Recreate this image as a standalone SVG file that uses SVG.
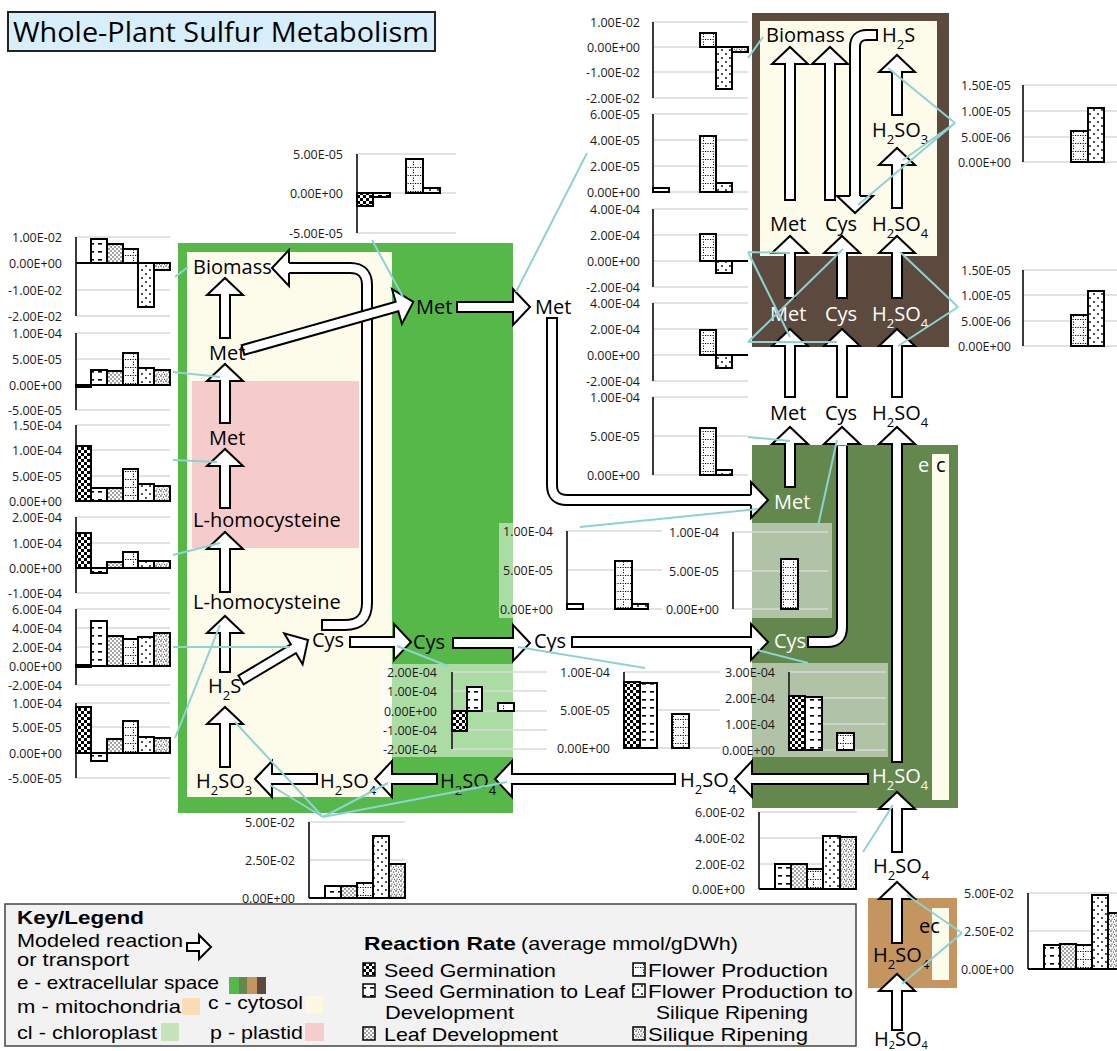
<svg xmlns="http://www.w3.org/2000/svg" width="1117" height="1051" viewBox="0 0 1117 1051">
<defs>
<style>
.t{font-family:"Open Sans","Liberation Sans",sans-serif;font-size:20px;fill:#000}
.tw{fill:#fff}
.s{font-size:13px}
.ax{font-family:"Open Sans","Liberation Sans",sans-serif;font-size:12.5px;text-anchor:end;fill:#1a1a1a}
.grid{stroke:#d9d9d9;stroke-width:1.5;fill:none}
.axis{stroke:#3a3a3a;stroke-width:2;fill:none}
.arr{fill:#fff;stroke:#000;stroke-width:2;stroke-linejoin:miter}
.sb{fill:none;stroke:#000;stroke-width:12}
.sw{fill:none;stroke:#fff;stroke-width:8}
.conn{stroke:#8dd3d3;stroke-width:2;fill:none}
.bar{stroke:#000;stroke-width:2}
.c{fill:url(#pC)}.d{fill:url(#pD)}.l{fill:url(#pL)}.f{fill:url(#pF)}.p{fill:url(#pS)}.r{fill:url(#pR)}
.bg{fill:#fff;fill-opacity:0.5}
.lg{font-family:"Liberation Sans Narrow","Liberation Sans",sans-serif;font-size:19px;fill:#000}
.lgb{font-weight:bold}
</style>
<pattern id="pC" width="6" height="6" patternUnits="userSpaceOnUse"><rect width="6" height="6" fill="#fff"/><rect width="3" height="3" fill="#000"/><rect x="3" y="3" width="3" height="3" fill="#000"/></pattern>
<pattern id="pD" width="8" height="8" patternUnits="userSpaceOnUse"><rect width="8" height="8" fill="#fff"/><rect x="2" y="3" width="4" height="1.6" fill="#000"/></pattern>
<pattern id="pL" width="4" height="4" patternUnits="userSpaceOnUse"><rect width="4" height="4" fill="#fff"/><circle cx="1" cy="1" r="0.7" fill="#000"/><circle cx="3" cy="3" r="0.7" fill="#000"/></pattern>
<pattern id="pF" width="10" height="8" patternUnits="userSpaceOnUse"><rect width="10" height="8" fill="#fff"/><rect x="0" y="7" width="1.2" height="1" fill="#000"/><rect x="2.5" y="7" width="1.2" height="1" fill="#000"/><rect x="5" y="7" width="1.2" height="1" fill="#000"/><rect x="7.5" y="7" width="1.2" height="1" fill="#000"/><rect x="3" y="1.5" width="1" height="1.2" fill="#000"/><rect x="3" y="4" width="1" height="1.2" fill="#000"/></pattern>
<pattern id="pS" width="8" height="8" patternUnits="userSpaceOnUse"><rect width="8" height="8" fill="#fff"/><circle cx="2" cy="2" r="0.9" fill="#000"/><circle cx="6" cy="6" r="0.9" fill="#000"/></pattern>
<pattern id="pR" width="5" height="5" patternUnits="userSpaceOnUse"><rect width="5" height="5" fill="#fff"/><circle cx="1" cy="1" r="0.7" fill="#000"/><circle cx="3.5" cy="2" r="0.6" fill="#000"/><circle cx="2" cy="4" r="0.6" fill="#000"/><circle cx="4.5" cy="4.3" r="0.5" fill="#000"/></pattern>
</defs>
<rect width="1117" height="1051" fill="#fff"/>

<g id="title"><rect x="8" y="12" width="427" height="39" fill="#d7effc" stroke="#222" stroke-width="2"/><text x="13" y="42" font-family="Open Sans, Liberation Sans, sans-serif" font-size="28" textLength="416" lengthAdjust="spacingAndGlyphs">Whole-Plant Sulfur Metabolism</text></g>

<g id="compartments">
<rect x="178" y="243" width="335" height="570" fill="#55b848"/>
<rect x="187" y="252" width="205" height="545" fill="#fdfbea"/>
<rect x="192" y="381" width="167" height="167" fill="#f5cbcb"/>
<rect x="752" y="13" width="197" height="334" fill="#5d4a3f"/>
<rect x="760" y="21" width="177" height="235" fill="#fdfbea"/>
<rect x="752" y="445" width="206" height="363" fill="#63874d"/>
<rect x="932" y="454" width="17" height="346" fill="#fdfbea"/>
<rect x="868" y="898" width="89" height="90" fill="#c4955f"/>
<rect x="932" y="908" width="17" height="72" fill="#fdfbea"/>
</g>

<g id="charts">
<g id="chartA"><path class="grid" d="M357 154H456M357 193H456M357 233H456"/><text class="ax" x="343" y="159">5.00E-05</text><text class="ax" x="343" y="198">0.00E+00</text><text class="ax" x="343" y="238">-5.00E-05</text><path class="axis" d="M357 154V233"/><rect class="bar c" x="357" y="193" width="16" height="13"/><rect class="bar d" x="373" y="193" width="17" height="4"/><rect class="bar f" x="406" y="159" width="17" height="34"/><rect class="bar p" x="423" y="188" width="17" height="5"/></g>

<g id="chartB"><path class="grid" d="M76 237H170M76 263H170M76 290H170M76 316H170"/><text class="ax" x="62" y="241.5">1.00E-02</text><text class="ax" x="62" y="267.5">0.00E+00</text><text class="ax" x="62" y="294.5">-1.00E-02</text><text class="ax" x="62" y="320.5">-2.00E-02</text><path class="axis" d="M76 237V316"/><path class="bar" d="M76 263H91"/><rect class="bar d" x="91" y="239" width="16" height="24"/><rect class="bar l" x="107" y="244" width="16" height="19"/><rect class="bar f" x="123" y="249" width="15" height="14"/><rect class="bar p" x="138" y="263" width="16" height="44"/><rect class="bar r" x="154" y="263" width="16" height="7"/></g>

<g id="chartC"><path class="grid" d="M76 333H170M76 359H170M76 385H170M76 410H170"/><text class="ax" x="62" y="337.5">1.00E-04</text><text class="ax" x="62" y="363.5">5.00E-05</text><text class="ax" x="62" y="389.5">0.00E+00</text><text class="ax" x="62" y="414.5">-5.00E-05</text><path class="axis" d="M76 333V410"/><rect class="bar d" x="76" y="385" width="15" height="2"/><rect class="bar d" x="91" y="370" width="16" height="15"/><rect class="bar l" x="107" y="371" width="16" height="14"/><rect class="bar f" x="123" y="353" width="15" height="32"/><rect class="bar p" x="138" y="368" width="16" height="17"/><rect class="bar r" x="154" y="370" width="16" height="15"/></g>

<g id="chartD"><path class="grid" d="M76 425H170M76 450H170M76 476H170M76 501H170"/><text class="ax" x="62" y="429.5">1.50E-04</text><text class="ax" x="62" y="454.5">1.00E-04</text><text class="ax" x="62" y="480.5">5.00E-05</text><text class="ax" x="62" y="505.5">0.00E+00</text><path class="axis" d="M76 425V501"/><rect class="bar c" x="76" y="446" width="15" height="55"/><rect class="bar d" x="91" y="488" width="16" height="13"/><rect class="bar l" x="107" y="488" width="16" height="13"/><rect class="bar f" x="123" y="469" width="15" height="32"/><rect class="bar p" x="138" y="484" width="16" height="17"/><rect class="bar r" x="154" y="486" width="16" height="15"/></g>

<g id="chartE"><path class="grid" d="M76 517H170M76 543H170M76 568H170M76 593H170"/><text class="ax" x="62" y="521.5">2.00E-04</text><text class="ax" x="62" y="547.5">1.00E-04</text><text class="ax" x="62" y="572.5">0.00E+00</text><text class="ax" x="62" y="597.5">-1.00E-04</text><path class="axis" d="M76 517V593"/><rect class="bar c" x="76" y="533" width="15" height="35"/><rect class="bar d" x="91" y="568" width="16" height="5"/><rect class="bar l" x="107" y="562" width="16" height="6"/><rect class="bar f" x="123" y="552" width="15" height="16"/><rect class="bar p" x="138" y="561" width="16" height="7"/><rect class="bar r" x="154" y="561" width="16" height="7"/></g>

<g id="chartF"><path class="grid" d="M76 609H170M76 628H170M76 647H170M76 666H170M76 685H170"/><text class="ax" x="62" y="613.5">6.00E-04</text><text class="ax" x="62" y="632.5">4.00E-04</text><text class="ax" x="62" y="651.5">2.00E-04</text><text class="ax" x="62" y="670.5">0.00E+00</text><text class="ax" x="62" y="689.5">-2.00E-04</text><path class="axis" d="M76 609V685"/><rect class="bar d" x="76" y="665" width="15" height="2"/><rect class="bar d" x="91" y="621" width="16" height="45"/><rect class="bar l" x="107" y="636" width="16" height="30"/><rect class="bar f" x="123" y="639" width="15" height="27"/><rect class="bar p" x="138" y="637" width="16" height="29"/><rect class="bar r" x="154" y="633" width="16" height="33"/></g>

<g id="chartG"><path class="grid" d="M76 703H170M76 727H170M76 753H170M76 778H170"/><text class="ax" x="62" y="707.5">1.00E-04</text><text class="ax" x="62" y="731.5">5.00E-05</text><text class="ax" x="62" y="757.5">0.00E+00</text><text class="ax" x="62" y="782.5">-5.00E-05</text><path class="axis" d="M76 703V778"/><rect class="bar c" x="76" y="707" width="15" height="46"/><rect class="bar d" x="91" y="753" width="16" height="8"/><rect class="bar l" x="107" y="739" width="16" height="14"/><rect class="bar f" x="123" y="721" width="15" height="32"/><rect class="bar p" x="138" y="737" width="16" height="16"/><rect class="bar r" x="154" y="738" width="16" height="15"/></g>

<g id="chartH"><path class="grid" d="M309 822H405M309 860H405M309 898H405"/><text class="ax" x="295" y="826.5">5.00E-02</text><text class="ax" x="295" y="864.5">2.50E-02</text><text class="ax" x="295" y="902.5">0.00E+00</text><path class="axis" d="M309 822V898"/><path class="bar" d="M309 898H325"/><rect class="bar d" x="325" y="886" width="16" height="12"/><rect class="bar l" x="341" y="886" width="16" height="12"/><rect class="bar f" x="357" y="883" width="16" height="15"/><rect class="bar p" x="373" y="836" width="16" height="62"/><rect class="bar r" x="389" y="864" width="16" height="34"/></g>

<g id="chartI"><rect class="bg" x="380" y="664" width="133" height="93"/><path class="grid" d="M452 672H547M452 691H547M452 711H547M452 730H547M452 749H547"/><text class="ax" x="437" y="676.5">2.00E-04</text><text class="ax" x="437" y="695.5">1.00E-04</text><text class="ax" x="437" y="715.5">0.00E+00</text><text class="ax" x="437" y="734.5">-1.00E-04</text><text class="ax" x="437" y="753.5">-2.00E-04</text><path class="axis" d="M452 672V749"/><rect class="bar c" x="452" y="711" width="15" height="20"/><rect class="bar d" x="467" y="687" width="15" height="24"/><rect class="bar f" x="498" y="703" width="16" height="8"/></g>

<g id="chartJ"><path class="grid" d="M624 672H720M624 710H720M624 748H720"/><text class="ax" x="610" y="676.5">1.00E-04</text><text class="ax" x="610" y="714.5">5.00E-05</text><text class="ax" x="610" y="752.5">0.00E+00</text><path class="axis" d="M624 672V748"/><rect class="bar c" x="624" y="682" width="16" height="66"/><rect class="bar d" x="640" y="683" width="17" height="65"/><rect class="bar f" x="672" y="714" width="17" height="34"/></g>

<g id="chartK"><rect class="bg" x="752" y="663" width="136" height="94"/><path class="grid" d="M789 672H886M789 698H886M789 724H886M789 750H886"/><text class="ax" x="775" y="676.5">3.00E-04</text><text class="ax" x="775" y="702.5">2.00E-04</text><text class="ax" x="775" y="728.5">1.00E-04</text><text class="ax" x="775" y="754.5">0.00E+00</text><path class="axis" d="M789 672V750"/><rect class="bar c" x="789" y="696" width="16" height="54"/><rect class="bar d" x="805" y="697" width="17" height="53"/><rect class="bar f" x="837" y="733" width="17" height="17"/></g>

<g id="chartL"><rect class="bg" x="499" y="523" width="165" height="95"/><path class="grid" d="M567 531H662M567 570H662M567 609H662"/><text class="ax" x="553" y="535.5">1.00E-04</text><text class="ax" x="553" y="574.5">5.00E-05</text><text class="ax" x="553" y="613.5">0.00E+00</text><path class="axis" d="M567 531V609"/><rect class="bar d" x="567" y="604" width="16" height="5"/><rect class="bar f" x="615" y="561" width="17" height="48"/><rect class="bar p" x="632" y="604" width="16" height="5"/></g>

<g id="chartM"><rect class="bg" x="752" y="523" width="80" height="95"/><path class="grid" d="M733 532H828M733 571H828M733 609H828"/><text class="ax" x="719" y="536.5">1.00E-04</text><text class="ax" x="719" y="575.5">5.00E-05</text><text class="ax" x="719" y="613.5">0.00E+00</text><path class="axis" d="M733 532V609"/><rect class="bar f" x="781" y="559" width="17" height="50"/></g>

<g id="chartN1"><path class="grid" d="M653 22H748M653 47H748M653 72H748M653 98H748"/><text class="ax" x="640" y="26.5">1.00E-02</text><text class="ax" x="640" y="51.5">0.00E+00</text><text class="ax" x="640" y="76.5">-1.00E-02</text><text class="ax" x="640" y="102.5">-2.00E-02</text><path class="axis" d="M653 22V98"/><rect class="bar f" x="700" y="33" width="16" height="14"/><rect class="bar p" x="716" y="47" width="16" height="42"/><rect class="bar r" x="732" y="47" width="16" height="5"/></g>

<g id="chartN2"><path class="grid" d="M653 114H748M653 140H748M653 166H748M653 192H748"/><text class="ax" x="640" y="118.5">6.00E-05</text><text class="ax" x="640" y="144.5">4.00E-05</text><text class="ax" x="640" y="170.5">2.00E-05</text><text class="ax" x="640" y="196.5">0.00E+00</text><path class="axis" d="M653 114V192"/><rect class="bar d" x="653" y="188" width="16" height="4"/><rect class="bar f" x="700" y="136" width="16" height="56"/><rect class="bar p" x="716" y="183" width="16" height="9"/></g>

<g id="chartN3"><path class="grid" d="M653 209H748M653 235H748M653 261H748M653 287H748"/><text class="ax" x="640" y="213.5">4.00E-04</text><text class="ax" x="640" y="239.5">2.00E-04</text><text class="ax" x="640" y="265.5">0.00E+00</text><text class="ax" x="640" y="291.5">-2.00E-04</text><path class="axis" d="M653 209V287"/><rect class="bar f" x="700" y="234" width="16" height="27"/><rect class="bar p" x="716" y="261" width="16" height="12"/><path class="bar" d="M732 261H748"/></g>

<g id="chartN4"><path class="grid" d="M653 303H748M653 329H748M653 355H748M653 381H748"/><text class="ax" x="640" y="307.5">4.00E-04</text><text class="ax" x="640" y="333.5">2.00E-04</text><text class="ax" x="640" y="359.5">0.00E+00</text><text class="ax" x="640" y="385.5">-2.00E-04</text><path class="axis" d="M653 303V381"/><rect class="bar f" x="700" y="330" width="16" height="25"/><rect class="bar p" x="716" y="355" width="16" height="13"/><path class="bar" d="M732 355H748"/></g>

<g id="chartN5"><path class="grid" d="M653 397H748M653 436H748M653 475H748"/><text class="ax" x="640" y="401.5">1.00E-04</text><text class="ax" x="640" y="440.5">5.00E-05</text><text class="ax" x="640" y="479.5">0.00E+00</text><path class="axis" d="M653 397V475"/><rect class="bar f" x="700" y="428" width="16" height="47"/><rect class="bar p" x="716" y="470" width="16" height="5"/></g>

<g id="chartO1"><path class="grid" d="M1023 85H1117M1023 111H1117M1023 137H1117M1023 162H1117"/><text class="ax" x="1011" y="89.5">1.50E-05</text><text class="ax" x="1011" y="115.5">1.00E-05</text><text class="ax" x="1011" y="141.5">5.00E-06</text><text class="ax" x="1011" y="166.5">0.00E+00</text><path class="axis" d="M1023 85V162"/><rect class="bar f" x="1071" y="131" width="17" height="31"/><rect class="bar p" x="1088" y="108" width="16" height="54"/></g>

<g id="chartO2"><path class="grid" d="M1023 270H1117M1023 295H1117M1023 321H1117M1023 346H1117"/><text class="ax" x="1011" y="274.5">1.50E-05</text><text class="ax" x="1011" y="299.5">1.00E-05</text><text class="ax" x="1011" y="325.5">5.00E-06</text><text class="ax" x="1011" y="350.5">0.00E+00</text><path class="axis" d="M1023 270V346"/><rect class="bar f" x="1071" y="315" width="17" height="31"/><rect class="bar p" x="1088" y="291" width="16" height="55"/></g>

<g id="chartP"><path class="grid" d="M759 812H857M759 838H857M759 864H857M759 889H857"/><text class="ax" x="745" y="816.5">6.00E-02</text><text class="ax" x="745" y="842.5">4.00E-02</text><text class="ax" x="745" y="868.5">2.00E-02</text><text class="ax" x="745" y="893.5">0.00E+00</text><path class="axis" d="M759 812V889"/><path class="bar" d="M759 889H775"/><rect class="bar d" x="775" y="864" width="16" height="25"/><rect class="bar l" x="791" y="864" width="16" height="25"/><rect class="bar f" x="807" y="869" width="16" height="20"/><rect class="bar p" x="823" y="836" width="17" height="53"/><rect class="bar r" x="840" y="837" width="16" height="52"/></g>

<g id="chartQ"><path class="grid" d="M1028 893H1117M1028 931H1117M1028 969H1117"/><text class="ax" x="1014" y="897.5">5.00E-02</text><text class="ax" x="1014" y="935.5">2.50E-02</text><text class="ax" x="1014" y="973.5">0.00E+00</text><path class="axis" d="M1028 893V969"/><path class="bar" d="M1028 969H1044"/><rect class="bar d" x="1044" y="945" width="16" height="24"/><rect class="bar l" x="1060" y="944" width="16" height="25"/><rect class="bar f" x="1076" y="945" width="16" height="24"/><rect class="bar p" x="1092" y="895" width="16" height="74"/><rect class="bar r" x="1108" y="913" width="16" height="56"/></g>
</g>

<g id="arrows">
<path class="sb" d="M321 625L345 625Q367 625 367 603L367 285Q367 268 350 268L288 268"/>
<path class="sw" d="M323 625L345 625Q367 625 367 603L367 285Q367 268 350 268L288 268"/>
<polyline class="arr" points="289,263 289,250 272,268 289,286 289,273"/>
<polygon class="arr" points="220,338 220,295 207,295 225,278 243,295 230,295 230,338"/>
<polygon class="arr" points="220,423 220,381 207,381 225,364 243,381 230,381 230,423"/>
<polygon class="arr" points="220,508 220,466 207,466 225,449 243,466 230,466 230,508"/>
<polygon class="arr" points="220,592 220,549 207,549 225,532 243,549 230,549 230,592"/>
<polygon class="arr" points="220,672 220,633 207,633 225,616 243,633 230,633 230,672"/>
<polygon class="arr" points="220,767 220,724 207,724 225,707 243,724 230,724 230,767"/>
<polygon class="arr" points="317,774 272,774 272,761 255,779 272,797 272,784 317,784"/>
<polygon class="arr" points="437,774 392,774 392,761 375,779 392,797 392,784 437,784"/>
<polygon class="arr" points="675,774 512,774 512,761 495,779 512,797 512,784 675,784"/>
<polygon class="arr" points="868,774 752,774 752,761 735,779 752,797 752,784 868,784"/>
<polygon class="arr" points="350,637 394,637 394,624 411,642 394,660 394,647 350,647"/>
<polygon class="arr" points="453,638 513,638 513,625 530,643 513,661 513,648 453,648"/>
<polygon class="arr" points="572,637 751,637 751,624 768,642 751,660 751,647 572,647"/>
<polygon class="arr" points="457,302 513,302 513,289 530,307 513,325 513,312 457,312"/>
<polygon class="arr" transform="translate(243 350) rotate(-15.77)" points="0,-5 160,-5 160,-18 177,0 160,18 160,5 0,5"/>
<polygon class="arr" transform="translate(241 680) rotate(-30.8)" points="0,-5 61,-5 61,-18 78,0 61,18 61,5 0,5"/>
<path class="sb" d="M552 317L552 485Q552 500 567 500L753 500"/>
<path class="sw" d="M552 319L552 485Q552 500 567 500L753 500"/>
<polyline class="arr" points="751,495 751,482 768,500 751,518 751,505"/>
<path class="sb" d="M807 642L827 642Q842 642 842 627L842 446"/>
<path class="sw" d="M809 642L827 642Q842 642 842 627L842 446"/>
<polyline class="arr" points="837,444 824,444 842,427 860,444 847,444"/>
<polygon class="arr" points="892,762 892,444 879,444 897,427 915,444 902,444 902,762"/>
<polygon class="arr" points="785,487 785,444 772,444 790,427 808,444 795,444 795,487"/>
<polygon class="arr" points="785,200 785,64 772,64 790,47 808,64 795,64 795,200"/>
<polygon class="arr" points="825,200 825,64 812,64 830,47 848,64 835,64 835,200"/>
<path class="sb" d="M878 35L867 35Q855 35 855 47L855 198"/>
<path class="sw" d="M876 35L867 35Q855 35 855 47L855 198"/>
<polyline class="arr" points="850,196 837,196 855,213 873,196 860,196"/>
<polygon class="arr" points="892,115 892,72 879,72 897,55 915,72 902,72 902,115"/>
<polygon class="arr" points="892,208 892,165 879,165 897,148 915,165 902,165 902,208"/>
<polygon class="arr" points="785,298 785,253 772,253 790,236 808,253 795,253 795,298"/>
<polygon class="arr" points="837,298 837,253 824,253 842,236 860,253 847,253 847,298"/>
<polygon class="arr" points="892,298 892,253 879,253 897,236 915,253 902,253 902,298"/>
<polygon class="arr" points="785,397 785,346 772,346 790,329 808,346 795,346 795,397"/>
<polygon class="arr" points="837,397 837,346 824,346 842,329 860,346 847,346 847,397"/>
<polygon class="arr" points="892,397 892,346 879,346 897,329 915,346 902,346 902,397"/>
<polygon class="arr" points="892,852 892,809 879,809 897,792 915,809 902,809 902,852"/>
<polygon class="arr" points="892,943 892,899 879,899 897,882 915,899 902,899 902,943"/>
<polygon class="arr" points="892,1030 892,991 879,991 897,974 915,991 902,991 902,1030"/>
</g>

<g id="nodes">
<g id="n-biomass-c"><text class="t" x="193" y="274">Biomass</text></g>
<g id="n-met-c"><text class="t" x="209" y="360">Met</text></g>
<g id="n-met-p"><text class="t" x="209" y="445">Met</text></g>
<g id="n-hcy-p"><text class="t" x="193" y="527">L-homocysteine</text></g>
<g id="n-hcy-c"><text class="t" x="193" y="609">L-homocysteine</text></g>
<g id="n-h2s-c"><text class="t" x="208" y="693">H<tspan class="s" dy="7">2</tspan><tspan dy="-7">S</tspan></text></g>
<g id="n-cys-c"><text class="t" x="312" y="647">Cys</text></g>
<g id="n-cys-e"><text class="t" x="413" y="649">Cys</text></g>
<g id="n-cys-out"><text class="t" x="534" y="648">Cys</text></g>
<g id="n-cys-e2"><text class="t tw" x="774" y="648">Cys</text></g>
<g id="n-h2so3-c"><text class="t" x="196" y="788">H<tspan class="s" dy="7">2</tspan><tspan dy="-7">SO</tspan><tspan class="s" dy="7">3</tspan></text></g>
<g id="n-h2so4-c"><text class="t" x="320" y="788">H<tspan class="s" dy="7">2</tspan><tspan dy="-7">SO</tspan><tspan class="s" dy="7">4</tspan></text></g>
<g id="n-h2so4-e"><text class="t" x="440" y="788">H<tspan class="s" dy="7">2</tspan><tspan dy="-7">SO</tspan><tspan class="s" dy="7">4</tspan></text></g>
<g id="n-h2so4-out"><text class="t" x="680" y="787">H<tspan class="s" dy="7">2</tspan><tspan dy="-7">SO</tspan><tspan class="s" dy="7">4</tspan></text></g>
<g id="n-h2so4-e2"><text class="t tw" x="872" y="783">H<tspan class="s" dy="7">2</tspan><tspan dy="-7">SO</tspan><tspan class="s" dy="7">4</tspan></text></g>
<g id="n-met-e"><text class="t" x="416" y="314">Met</text></g>
<g id="n-met-out"><text class="t" x="535" y="314">Met</text></g>
<g id="n-met-e2"><text class="t tw" x="774" y="509">Met</text></g>
<g id="n-ec-e2"><text class="t tw" x="918" y="472">e</text><text class="t" x="936" y="472">c</text></g>
<g id="n-biomass-r"><text class="t" x="766" y="42">Biomass</text></g>
<g id="n-h2s-r"><text class="t" x="882" y="42">H<tspan class="s" dy="7">2</tspan><tspan dy="-7">S</tspan></text></g>
<g id="n-h2so3-r"><text class="t" x="872" y="137">H<tspan class="s" dy="7">2</tspan><tspan dy="-7">SO</tspan><tspan class="s" dy="7">3</tspan></text></g>
<g id="n-met-rc"><text class="t" x="770" y="231">Met</text></g>
<g id="n-cys-rc"><text class="t" x="825" y="231">Cys</text></g>
<g id="n-h2so4-rc"><text class="t" x="872" y="231">H<tspan class="s" dy="7">2</tspan><tspan dy="-7">SO</tspan><tspan class="s" dy="7">4</tspan></text></g>
<g id="n-met-re"><text class="t tw" x="770" y="321">Met</text></g>
<g id="n-cys-re"><text class="t tw" x="825" y="321">Cys</text></g>
<g id="n-h2so4-re"><text class="t tw" x="872" y="321">H<tspan class="s" dy="7">2</tspan><tspan dy="-7">SO</tspan><tspan class="s" dy="7">4</tspan></text></g>
<g id="n-met-x"><text class="t" x="770" y="420">Met</text></g>
<g id="n-cys-x"><text class="t" x="825" y="420">Cys</text></g>
<g id="n-h2so4-x"><text class="t" x="872" y="420">H<tspan class="s" dy="7">2</tspan><tspan dy="-7">SO</tspan><tspan class="s" dy="7">4</tspan></text></g>
<g id="n-h2so4-s1"><text class="t" x="873" y="873">H<tspan class="s" dy="7">2</tspan><tspan dy="-7">SO</tspan><tspan class="s" dy="7">4</tspan></text></g>
<g id="n-ec-root"><text class="t" x="919" y="933">ec</text></g>
<g id="n-h2so4-root"><text class="t" x="873" y="962">H<tspan class="s" dy="7">2</tspan><tspan dy="-7">SO</tspan><tspan class="s" dy="7">4</tspan></text></g>
<g id="n-h2so4-soil"><text class="t" x="874" y="1046" font-size="18">H<tspan font-size="11" dy="3">2</tspan><tspan dy="-3">SO</tspan><tspan font-size="11" dy="3">4</tspan></text></g>
</g>

<g id="connectors">
<path class="conn" d="M175 277L188 267M173 372L220 377M173 460L217 462M173 555L220 543M173 647L290 647M175 738L220 625"/>
<path class="conn" d="M323 817L235 722M323 817L270 785M323 817L388 783M323 817L507 782"/>
<path class="conn" d="M372 240L403 297M748 58L763 37M516 292L587 153"/>
<path class="conn" d="M748 252L790 253M748 252L790 337M748 342L843 249M748 342L837 342"/>
<path class="conn" d="M955 123L888 68M955 123L903 160M955 123L858 205M958 307L900 252M958 307L898 346"/>
<path class="conn" d="M748 437L790 441M818 526L837 440M580 527L758 509M518 647L645 668M397 646L448 666M757 650L808 663"/>
<path class="conn" d="M863 852L893 805M962 933L907 895M962 933L902 984"/>
</g>

<g id="legend">
<rect x="5" y="904" width="851" height="142" fill="#f2f2f2" stroke="#444" stroke-width="1.5"/>
<text class="lg lgb" x="17" y="924" font-size="20" textLength="127" lengthAdjust="spacingAndGlyphs">Key/Legend</text>
<text class="lg" x="17" y="947" textLength="166" lengthAdjust="spacingAndGlyphs">Modeled reaction</text>
<polygon class="arr" stroke-width="1.5" points="187,943 199,943 199,935 211,947 199,959 199,951 187,951"/>
<text class="lg" x="17" y="966" textLength="112" lengthAdjust="spacingAndGlyphs">or transport</text>
<text class="lg" x="17" y="989" textLength="202" lengthAdjust="spacingAndGlyphs">e - extracellular space</text>
<rect x="229" y="977" width="10" height="17" fill="#55b848"/><rect x="239" y="977" width="8" height="17" fill="#63874d"/><rect x="247" y="977" width="10" height="17" fill="#c4955f"/><rect x="257" y="977" width="9" height="17" fill="#5d4a3f"/>
<text class="lg" x="17" y="1013" textLength="164" lengthAdjust="spacingAndGlyphs">m - mitochondria</text>
<rect x="182" y="998" width="18" height="17" fill="#fddbb4"/>
<text class="lg" x="208" y="1009" textLength="95" lengthAdjust="spacingAndGlyphs">c - cytosol</text>
<rect x="305" y="996" width="18" height="17" fill="#fdf8e1"/>
<text class="lg" x="17" y="1039" textLength="140" lengthAdjust="spacingAndGlyphs">cl - chloroplast</text>
<rect x="161" y="1023" width="18" height="18" fill="#c6e4b9"/>
<text class="lg" x="210" y="1039" textLength="93" lengthAdjust="spacingAndGlyphs">p - plastid</text>
<rect x="305" y="1023" width="19" height="18" fill="#f6cdcd"/>
<text class="lg lgb" x="364" y="950" textLength="152" lengthAdjust="spacingAndGlyphs">Reaction Rate</text>
<text class="lg" x="521" y="950" textLength="217" lengthAdjust="spacingAndGlyphs">(average mmol/gDWh)</text>
<rect class="c" x="363" y="963" width="12" height="13" stroke="#000" stroke-width="1.5"/>
<text class="lg" x="384" y="977" textLength="172" lengthAdjust="spacingAndGlyphs">Seed Germination</text>
<rect class="d" x="363" y="984" width="12" height="13" stroke="#000" stroke-width="1.5"/>
<text class="lg" x="384" y="998" textLength="241" lengthAdjust="spacingAndGlyphs">Seed Germination to Leaf</text>
<text class="lg" x="385" y="1019" textLength="129" lengthAdjust="spacingAndGlyphs">Development</text>
<rect class="l" x="363" y="1027" width="12" height="13" stroke="#000" stroke-width="1.5"/>
<text class="lg" x="384" y="1041" textLength="174" lengthAdjust="spacingAndGlyphs">Leaf Development</text>
<rect class="f" x="633" y="963" width="12" height="13" stroke="#000" stroke-width="1.5"/>
<text class="lg" x="648" y="977" textLength="180" lengthAdjust="spacingAndGlyphs">Flower Production</text>
<rect class="p" x="633" y="984" width="12" height="13" stroke="#000" stroke-width="1.5"/>
<text class="lg" x="648" y="998" textLength="205" lengthAdjust="spacingAndGlyphs">Flower Production to</text>
<text class="lg" x="656" y="1019" textLength="152" lengthAdjust="spacingAndGlyphs">Silique Ripening</text>
<rect class="r" x="633" y="1027" width="12" height="13" stroke="#000" stroke-width="1.5"/>
<text class="lg" x="648" y="1041" textLength="160" lengthAdjust="spacingAndGlyphs">Silique Ripening</text>
</g>
</svg>
